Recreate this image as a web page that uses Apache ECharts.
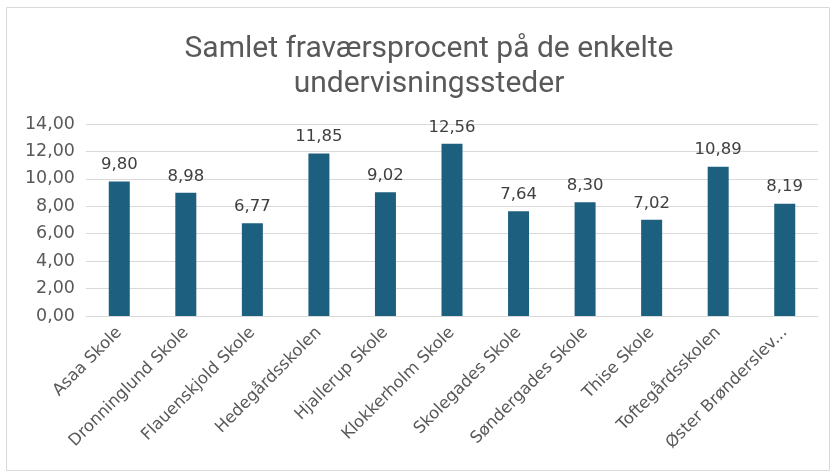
<!DOCTYPE html>
<html><head><meta charset="utf-8">
<script src="https://cdn.jsdelivr.net/npm/echarts@6/dist/echarts.min.js"></script>
<style>html,body{margin:0;padding:0;background:#fff}#c{width:832px;height:474px}</style>
</head><body><div id="c"></div>
<script>
const categories = ["Asaa Skole","Dronninglund Skole","Flauenskjold Skole","Hedegårdsskolen","Hjallerup Skole","Klokkerholm Skole","Skolegades Skole","Søndergades Skole","Thise Skole","Toftegårdsskolen","Øster Brønderslev Skole"];
const values = [9.80, 8.98, 6.77, 11.85, 9.02, 12.56, 7.64, 8.30, 7.02, 10.89, 8.19];
const titleText = "Samlet fraværsprocent på de enkelte\nundervisningssteder";
const fmt = v => v.toFixed(2).replace('.', ',');
const chart = echarts.init(document.getElementById('c'));
chart.setOption({
  animation: false,
  graphic: [{type:'rect', shape:{x:6.5,y:7.5,width:823,height:463}, style:{fill:'none', stroke:'#d9d9d9', lineWidth:1}}],
  title: {text: titleText, left: 424, top: 27, textAlign: 'center',
    textStyle: {fontFamily: 'Roboto', fontSize: 30, fontWeight: 'normal', color: '#595959', lineHeight: 35}},
  grid: {left: 86, right: 14, top: 124, bottom: 158, containLabel: false},
  xAxis: {type: 'category', data: categories,
    axisLine: {lineStyle: {color: '#d9d9d9'}}, axisTick: {show: false},
    axisLabel: {rotate: 45, interval: 0, color: '#595959', fontFamily: 'DejaVu Sans', fontSize: 16.5, margin: 14,
      formatter: s => s.length > 20 ? s.slice(0, 17) + '...' : s}},
  yAxis: {type: 'value', min: 0, max: 14, interval: 2,
    axisLabel: {formatter: fmt, color: '#595959', fontFamily: 'DejaVu Sans', fontSize: 17.5, margin: 11},
    splitLine: {lineStyle: {color: '#d9d9d9'}}, axisLine: {show: false}, axisTick: {show: false}},
  series: [{type: 'bar', data: values, barWidth: 21, itemStyle: {color: '#1d5f7f'},
    label: {show: true, position: 'top', distance: 8, formatter: p => fmt(p.value), color: '#404040', fontFamily: 'DejaVu Sans', fontSize: 16.5}}]
});
</script></body></html>
